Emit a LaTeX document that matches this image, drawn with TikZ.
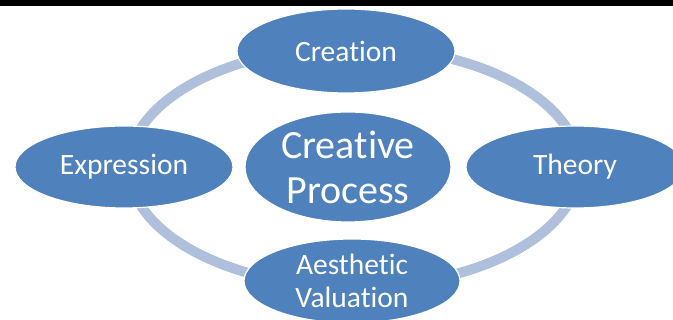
\documentclass[tikz,border=0pt]{standalone}
\usepackage{fontspec}
\setmainfont[Ligatures=NoCommon]{Carlito}
\usepackage{xcolor}
\usetikzlibrary{shapes.geometric}

\definecolor{cycblue}{RGB}{79,129,189}
\definecolor{ringblue}{RGB}{175,192,221}

\tikzset{
  cycnode/.style={ellipse, fill=cycblue, draw=white, line width=1.2pt, text=white,
    inner sep=0pt, align=center, font=\fontsize{29.5}{33}\selectfont},
  ring/.style={draw=ringblue, line width=10pt}
}

\begin{document}
\begin{tikzpicture}[x=1pt,y=1pt,yscale=-1,xscale=1]
    \useasboundingbox (0,0) rectangle (673,320);
    %Top rule
    \fill [black] (0,0) rectangle (673,6);

    %Cycle ring
    \coordinate (ringc) at (354,167);
    \draw [ring] (ringc) ellipse [x radius=225, y radius=120];

    % Text Node
    \node [cycnode, minimum width=218, minimum height=84] (crea) at (346,51) {Creation};
    % Text Node
    \node [cycnode, minimum width=218, minimum height=82] (expr) at (124,167) {Expression};
    % Text Node
    \node [cycnode, minimum width=218, minimum height=82] (theo) at (575,167) {Theory};
    % Text Node
    \node [cycnode, minimum width=216, minimum height=84] (aest) at (352,281) {Aesthetic\\Valuation};
    % Text Node
    \node [cycnode, minimum width=206, minimum height=110, font=\fontsize{40}{45}\selectfont] (proc) at (348,167) {Creative\\Process};

\end{tikzpicture}
\end{document}
